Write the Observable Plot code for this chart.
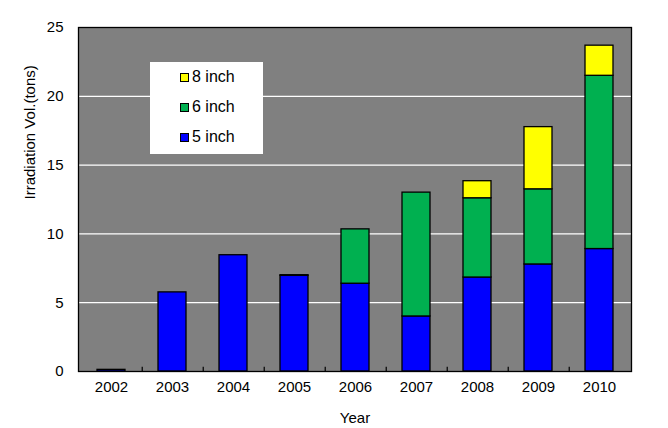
<!DOCTYPE html>
<html>
<head>
<meta charset="utf-8">
<script src="https://cdn.jsdelivr.net/npm/d3@7"></script>
<script src="https://cdn.jsdelivr.net/npm/@observablehq/plot@0.6"></script>
<style>
  html, body { margin: 0; padding: 0; background: #fff; }
  #wrap { position: relative; width: 668px; height: 428px; font-family: "Liberation Sans", Arial, sans-serif; }
  #legend { position: absolute; left: 150px; top: 62px; width: 113px; height: 92px; background: #fff; }
  .item { position: absolute; left: 30px; height: 20px; display: flex; align-items: center; font-size: 16px; color: #000; }
  .sw { width: 7px; height: 7px; border: 1px solid #000; margin-right: 3px; }
</style>
</head>
<body>
<div id="wrap"></div>
<script>
const years = ["2002","2003","2004","2005","2006","2007","2008","2009","2010"];
const seriesNames = ["5 inch", "6 inch", "8 inch"];
const inch5 = [0.12, 5.75, 8.45, 6.95, 6.38, 4.0, 6.83, 7.78, 8.9];
const inch6 = [0, 0, 0, 0.05, 3.95, 9.0, 5.76, 5.46, 12.59];
const inch8 = [0, 0, 0, 0, 0, 0, 1.24, 4.52, 2.19];
const yTicks = [0, 5, 10, 15, 20, 25];
const gridTicks = [5, 10, 15, 20];
const colors = ["#0000FF", "#00B050", "#FFFF00"];

const seriesValues = [inch5, inch6, inch8];
const data = [];
years.forEach((yr, i) => {
  seriesNames.forEach((s, k) => {
    data.push({year: yr, series: s, value: seriesValues[k][i]});
  });
});
const bars = data.filter(d => d.value > 0);

const W = 668, H = 428, ML = 78, MR = 37, MT = 27, MB = 57;
const step = (W - ML - MR) / years.length;

const chart = Plot.plot({
  width: W,
  height: H,
  marginLeft: ML,
  marginRight: MR,
  marginTop: MT,
  marginBottom: MB,
  style: {fontFamily: "'Liberation Sans', Arial, sans-serif", fontSize: "15px", background: "#fff", color: "#000"},
  x: {domain: years, paddingInner: 0.545, paddingOuter: 0.2725, align: 0.5},
  y: {domain: [0, 25]},
  color: {domain: seriesNames, range: colors},
  marks: [
    Plot.frame({fill: "#808080"}),
    Plot.gridY(gridTicks, {stroke: "#fff", strokeOpacity: 1, strokeWidth: 1.3}),
    Plot.barY(bars, {x: "year", y: "value", fill: "series", stroke: "#000", strokeWidth: 1.3}),
    Plot.ruleX(years.slice(0, -1), {x: d => d, dx: step / 2, y1: 0, y2: 0.3, stroke: "#000", strokeWidth: 1.2}),
    Plot.frame({stroke: "#000", strokeWidth: 1.3}),
    Plot.axisY({ticks: yTicks, tickSize: 0, tickPadding: 15, label: null, fontSize: 15}),
    Plot.axisX({tickSize: 0, tickPadding: 10, label: null, fontSize: 15}),
    Plot.text(["Year"], {frameAnchor: "bottom", dy: 51, fontSize: 15, fill: "#000"}),
    Plot.text(["Irradiation Vol.(tons)"], {frameAnchor: "left", rotate: -90, dx: -48, fontSize: 15, fill: "#000"})
  ]
});

const wrap = document.getElementById("wrap");
wrap.appendChild(chart);

const legend = document.createElement("div");
legend.id = "legend";
const order = [2, 1, 0];
order.forEach((k, r) => {
  const it = document.createElement("div");
  it.className = "item";
  it.style.top = (5 + r * 30) + "px";
  const sw = document.createElement("span");
  sw.className = "sw";
  sw.style.background = colors[k];
  const tx = document.createElement("span");
  tx.textContent = seriesNames[k];
  it.appendChild(sw);
  it.appendChild(tx);
  legend.appendChild(it);
});
wrap.appendChild(legend);
</script>
</body>
</html>
